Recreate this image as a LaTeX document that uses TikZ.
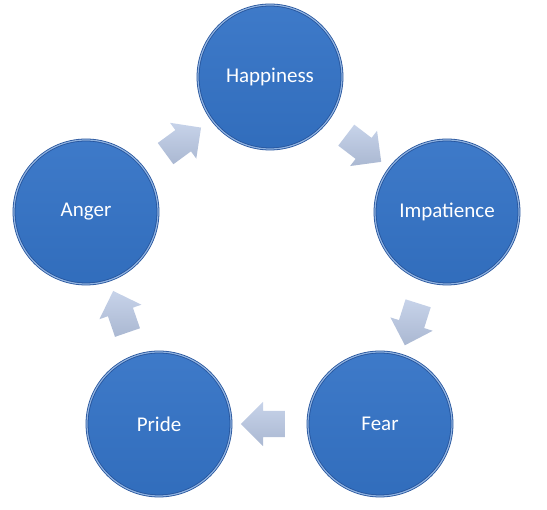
\documentclass[tikz,border=0pt]{standalone}
\usepackage{fontspec}
\setmainfont{Carlito}
\usetikzlibrary{shapes.arrows,calc}
\definecolor{ballblue}{RGB}{52,115,198}
\definecolor{balldark}{RGB}{35,82,155}
\definecolor{arrowgray}{RGB}{185,200,228}

\begin{document}
\begin{tikzpicture}[x=1pt, y=1pt,
  n/.style={circle, draw=balldark, line width=0.8pt, double=ballblue!55!white, double distance=1.2pt, top color=ballblue!95!white, bottom color=ballblue!95!black, minimum size=144pt, text=white, font=\fontsize{21}{25}\selectfont},
  arr/.style={single arrow, draw=none, top color=arrowgray!80!white, bottom color=arrowgray!92!black, minimum height=44pt, inner sep=13pt, single arrow head extend=9pt}
]
  \useasboundingbox (0,0) rectangle (547,510);
  \node[n] (Happiness) at (270,433) {Happiness};
  \node[n] (Impatience) at (447,298) {Impatience};
  \node[n] (Fear) at (380,86) {Fear};
  \node[n] (Pride) at (159,86) {Pride};
  \node[n] (Anger) at (86,298) {Anger};
  % block arrows between the circles
  \foreach \from/\to in {Anger/Happiness, Happiness/Impatience, Impatience/Fear, Fear/Pride, Pride/Anger}
    \path let \p1=($(\to)-(\from)$), \n1={atan2(\y1,\x1)} in
      node[arr, rotate=\n1] (arr-\from) at ($(\from)!0.5!(\to)$) {};
\end{tikzpicture}
\end{document}
